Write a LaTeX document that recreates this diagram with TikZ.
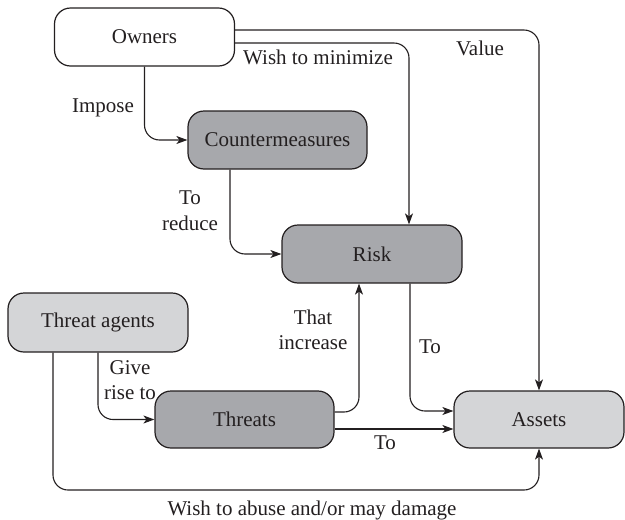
\documentclass[tikz,border=0pt]{standalone}
\usepackage{fontspec}
\setmainfont{Liberation Serif}
\usetikzlibrary{arrows.meta}
\definecolor{ink}{RGB}{35,31,32}
\definecolor{darkfill}{RGB}{167,168,172}
\definecolor{lightfill}{RGB}{212,213,215}
\begin{document}
\begin{tikzpicture}[x=1pt,y=-1pt,
  box/.style={draw=ink, line width=1.2pt, rounded corners=16pt, minimum height=58pt,
    minimum width=180pt, inner sep=0pt, text=ink, font=\fontsize{21}{25}\selectfont},
  conn/.style={draw=ink, line width=1.1pt, rounded corners=15pt,
    -{Stealth[length=11pt,width=8pt,inset=3pt]}},
  lbl/.style={text=ink, font=\fontsize{21}{25.5}\selectfont, align=center, inner sep=0pt}]
\useasboundingbox (0,0) rectangle (625,520);
% nodes
\node[box, fill=white] (owners) at (144.5,37) {Owners};
\node[box, fill=darkfill, minimum width=179pt] (counter) at (277.5,140) {Countermeasures};
\node[box, fill=darkfill] (risk) at (372,254) {Risk};
\node[box, fill=lightfill, minimum height=59pt] (agents) at (98,322.5) {Threat agents};
\node[box, fill=darkfill, minimum width=179pt, minimum height=57pt] (threats) at (244.5,419.5) {Threats};
\node[box, fill=lightfill, minimum width=170pt, minimum height=57pt] (assets) at (539,419.5) {Assets};
% helper coordinates
\coordinate (yv) at (0,30);
\coordinate (ywm) at (0,43);
\coordinate (xwm) at (409,0);
\coordinate (xcr) at (230,0);
\coordinate (ythi) at (0,412);
\coordinate (xthi) at (359,0);
\coordinate (xrt) at (410,0);
\coordinate (yrt) at (0,411);
\coordinate (ytt) at (0,429);
\coordinate (xwa) at (53,0);
\coordinate (ywa) at (300,490);
% connectors
\draw[conn] (owners.east |- yv) -| (assets.north);
\draw[conn] (owners.east |- ywm) -| (xwm |- risk.north);
\draw[conn] (owners.south) |- (counter.west);
\draw[conn] (xcr |- counter.south) |- (risk.west);
\draw[conn] (threats.east |- ythi) -| (xthi |- risk.south);
\draw[conn] (xrt |- risk.south) |- (assets.west |- yrt);
\draw[conn] (threats.east |- ytt) -- (assets.west |- ytt);
\draw[conn] (agents.south) |- (threats.west);
\draw[conn] (xwa |- agents.south) |- (ywa) -| (assets.south);
% labels
\node[lbl] (l1) at (103,108) {Impose};
\node[lbl] (l2) at (318,57) {Wish to minimize};
\node[lbl] (l3) at (480,48) {Value};
\node[lbl] (l4) at (190,210.5) {To\\reduce};
\node[lbl] (l5) at (313,330) {That\\increase};
\node[lbl] (l6) at (430,347) {To};
\node[lbl] (l7) at (130,380) {Give\\rise to};
\node[lbl] (l8) at (385,443) {To};
\node[lbl] (l9) at (312,510) {Wish to abuse and/or may damage};
\end{tikzpicture}
\end{document}
